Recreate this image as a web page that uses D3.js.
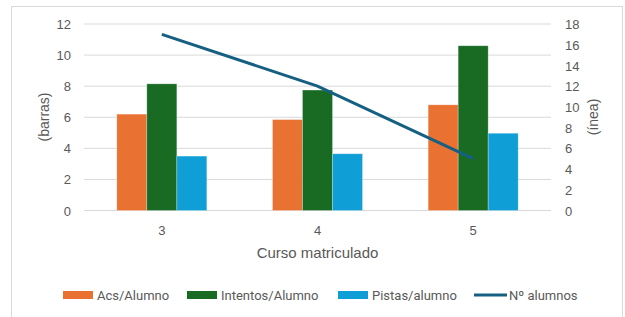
<!DOCTYPE html>
<html>
<head>
<meta charset="utf-8">
<script src="https://cdn.jsdelivr.net/npm/d3@7"></script>
<style>
  body { margin: 0; background: #fff; }
  text { font-family: "Liberation Sans", Arial, sans-serif; fill: #595959; }
</style>
</head>
<body>
<div id="chart"></div>
<script>
// data
var cursos = ["3", "4", "5"];
var acs = [6.2, 5.85, 6.8];
var intentos = [8.15, 7.75, 10.6];
var pistas = [3.5, 3.65, 4.97];
var alumnos = [17, 12, 5];
var leftTicks = [0, 2, 4, 6, 8, 10, 12];
var rightTicks = [0, 2, 4, 6, 8, 10, 12, 14, 16, 18];

var series = [
	{ name: "Acs/Alumno", values: acs, color: "#E97132" },
	{ name: "Intentos/Alumno", values: intentos, color: "#196B24" },
	{ name: "Pistas/alumno", values: pistas, color: "#0F9ED5" }
];
var lineColor = "#156082";

var width = 625, height = 317;
var plotLeft = 84, plotRight = 551, plotTop = 24, plotBottom = 210.5;

var svg = d3.select("#chart").append("svg")
	.attr("width", width)
	.attr("height", height);

// outer frame
svg.append("rect")
	.attr("x", 11.5).attr("y", 6.5)
	.attr("width", 611).attr("height", 330)
	.attr("fill", "#fff")
	.attr("stroke", "#d9d9d9");

var x = d3.scaleBand().domain(cursos).range([plotLeft, plotRight]);
var xs = d3.scaleBand().domain(d3.range(series.length)).range([0, 90]);
var y = d3.scaleLinear().domain([0, 12]).range([plotBottom, plotTop]);
var y2 = d3.scaleLinear().domain([0, 18]).range([plotBottom, plotTop]);

// gridlines
svg.append("g").selectAll("line").data(leftTicks).join("line")
	.attr("x1", plotLeft).attr("x2", plotRight)
	.attr("y1", d => y(d)).attr("y2", d => y(d))
	.attr("stroke", "#d9d9d9").attr("stroke-width", 1);

// left axis
var ya = svg.append("g").attr("transform", "translate(" + (plotLeft - 13) + ",0)")
	.call(d3.axisLeft(y).tickValues(leftTicks).tickSize(0).tickPadding(0));
ya.select(".domain").remove();
ya.selectAll("text").style("font-size", "13px").style("fill", "#595959").attr("dy", "0.35em");

// right axis
var ya2 = svg.append("g").attr("transform", "translate(" + (plotRight + 14) + ",0)")
	.call(d3.axisRight(y2).tickValues(rightTicks).tickSize(0).tickPadding(0));
ya2.select(".domain").remove();
ya2.selectAll("text").style("font-size", "13px").style("fill", "#595959").attr("dy", "0.35em");

// bars
var groups = svg.append("g").selectAll("g").data(series).join("g")
	.attr("fill", d => d.color);
groups.selectAll("rect")
	.data((s, si) => s.values.map((v, i) => ({ v: v, c: cursos[i], si: si })))
	.join("rect")
	.attr("x", d => x(d.c) + (x.bandwidth() - 90) / 2 + xs(d.si))
	.attr("width", xs.bandwidth())
	.attr("y", d => y(d.v))
	.attr("height", d => plotBottom - y(d.v))
	.attr("stroke", "#ffffff")
	.attr("stroke-opacity", 0.35)
	.attr("stroke-width", 0.75);

// line series
var line = d3.line()
	.x((d, i) => x(cursos[i]) + x.bandwidth() / 2)
	.y(d => y2(d));
svg.append("path")
	.datum(alumnos)
	.attr("d", line)
	.attr("fill", "none")
	.attr("stroke", lineColor)
	.attr("stroke-width", 3);

// x tick labels
var xa = svg.append("g").attr("transform", "translate(0," + (plotBottom + 13) + ")")
	.call(d3.axisBottom(x).tickSize(0).tickPadding(0));
xa.select(".domain").remove();
xa.selectAll("text").style("font-size", "13px").style("fill", "#595959").attr("dy", "0.9em");

// axis titles
svg.append("text")
	.attr("x", (plotLeft + plotRight) / 2).attr("y", 258)
	.attr("text-anchor", "middle")
	.style("font-size", "15px")
	.text("Curso matriculado");

svg.append("text")
	.attr("transform", "translate(49,117) rotate(-90)")
	.attr("text-anchor", "middle")
	.style("font-size", "14px")
	.text("(barras)");

svg.append("text")
	.attr("transform", "translate(598,117) rotate(-90)")
	.attr("text-anchor", "middle")
	.style("font-size", "14px")
	.text("(ínea)");

// legend
var legendX = [63, 187, 338, 474];
var legendItems = series.map(s => ({ name: s.name, color: s.color, type: "bar" }))
	.concat([{ name: "Nº alumnos", color: lineColor, type: "line" }]);
var lg = svg.append("g").selectAll("g").data(legendItems).join("g")
	.attr("transform", (d, i) => "translate(" + legendX[i] + ",295)");
lg.filter(d => d.type == "bar").append("rect")
	.attr("x", 0).attr("y", -4).attr("width", 30).attr("height", 8)
	.attr("fill", d => d.color);
lg.filter(d => d.type == "line").append("line")
	.attr("x1", 0).attr("x2", 33).attr("y1", 0).attr("y2", 0)
	.attr("stroke", d => d.color).attr("stroke-width", 3);
lg.append("text")
	.attr("x", d => d.type == "line" ? 35 : 34)
	.attr("y", 0).attr("dy", "0.35em")
	.style("font-family", "Roboto, sans-serif")
	.style("font-size", "13px")
	.text(d => d.name);
</script>
</body>
</html>
